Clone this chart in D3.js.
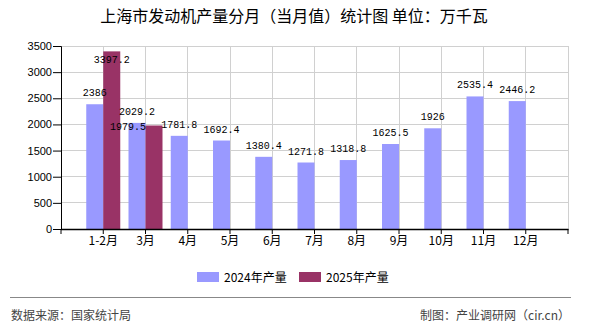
<!DOCTYPE html>
<html><head><meta charset="utf-8">
<script src="https://cdn.jsdelivr.net/npm/d3@7"></script>
<style>body{margin:0;background:#fff}svg{display:block}</style>
</head><body><svg id="c" width="590" height="330"></svg>
<script>
const categories = ["1-2月","3月","4月","5月","6月","7月","8月","9月","10月","11月","12月"];
const values2024 = [2386,2029.2,1781.8,1692.4,1380.4,1271.8,1318.8,1625.5,1926,2535.4,2446.2];
const values2025 = [3397.2,1979.5,null,null,null,null,null,null,null,null,null];
const seriesNames = ["2024年产量","2025年产量"];
const yTicks = [0,500,1000,1500,2000,2500,3000,3500];
const title = "上海市发动机产量分月（当月值）统计图 单位：万千瓦";

const svg = d3.select("#c");
const L=61,R=568,T=46,B=229,bw=17;
const colors=["#9999FF","#993366"];
const x = d3.scalePoint().domain(categories).range([L,R]).padding(1);
const y = d3.scaleLinear().domain([0,3500]).range([B,T]);
const cjk = "'Noto Sans CJK SC', 'Liberation Sans', sans-serif";

svg.append("text").attr("x",294).attr("y",22).attr("text-anchor","middle")
  .attr("font-family",cjk).attr("font-size",16).attr("fill","#000").text(title);

// grid
const g = svg.append("g");
g.selectAll("line.h").data(yTicks.filter(d=>d>0)).join("line")
  .attr("x1",L).attr("x2",R).attr("y1",d=>y(d)).attr("y2",d=>y(d))
  .attr("stroke","#d0d0d0").attr("stroke-width",1).attr("shape-rendering","crispEdges");
const vpos = [L].concat(categories.map(c=>x(c))).concat([R]);
g.selectAll("line.v").data(vpos.slice(1)).join("line")
  .attr("x1",d=>d).attr("x2",d=>d).attr("y1",T).attr("y2",B)
  .attr("stroke","#d0d0d0").attr("stroke-width",1).attr("shape-rendering","crispEdges");

// bars
const series=[values2024,values2025];
series.forEach((vals,si)=>{
  svg.append("g").selectAll("rect").data(categories.map((c,i)=>({c,v:vals[i]})).filter(d=>d.v!=null)).join("rect")
    .attr("x",d=>si===0?x(d.c)-bw:x(d.c)).attr("width",bw)
    .attr("y",d=>y(d.v)).attr("height",d=>B-y(d.v)).attr("fill",colors[si]);
});

// labels
const shift = {"1-1":[-26,4]};
series.forEach((vals,si)=>{
  categories.forEach((c,i)=>{
    const v=vals[i]; if(v==null) return;
    const cx = si===0?x(c)-bw/2:x(c)+bw/2;
    let by = y(v)-8;
    if(by-8<T) by = y(v)+12;
    const s = shift[si+"-"+i];
    let dx=0;
    if(s){dx=s[0]; by=y(v)+s[1];}
    svg.append("text").attr("x",cx+dx).attr("y",by).attr("text-anchor","middle")
      .attr("font-family","'Liberation Mono','DejaVu Sans Mono',monospace").attr("font-size",10)
      .attr("fill","#000").text(String(v));
  });
});

// axes
const ya = svg.append("g").attr("transform",`translate(${L},0)`)
  .call(d3.axisLeft(y).tickValues(yTicks).tickSize(8).tickFormat(d3.format("d")));
ya.select(".domain").attr("stroke","#000");
ya.selectAll(".tick line").attr("stroke","#000");
ya.selectAll("text").attr("font-family","'Liberation Sans',Arial,sans-serif").attr("font-size",11).attr("fill","#000").attr("x",-9);

svg.append("line").attr("x1",L).attr("x2",R+0.5).attr("y1",B+0.5).attr("y2",B+0.5).attr("stroke","#000").attr("stroke-width",1.5);
svg.append("g").selectAll("line").data(vpos).join("line")
  .attr("x1",d=>d).attr("x2",d=>d).attr("y1",B).attr("y2",B+5).attr("stroke","#000");
svg.append("g").selectAll("text").data(categories).join("text")
  .attr("x",d=>x(d)).attr("y",245).attr("text-anchor","middle")
  .attr("font-family",cjk).attr("font-size",12).attr("fill","#000").text(d=>d);

// legend
const lg = svg.append("g");
[[197,224],[299,326]].forEach((p,i)=>{
  lg.append("rect").attr("x",p[0]).attr("y",272).attr("width",22).attr("height",10).attr("fill",colors[i]);
  lg.append("text").attr("x",p[1]).attr("y",281.5).attr("font-family",cjk).attr("font-size",12).attr("fill","#000").text(seriesNames[i]);
});

// footer
svg.append("line").attr("x1",10).attr("x2",571).attr("y1",297.5).attr("y2",297.5).attr("stroke","#888").attr("stroke-width",1);
svg.append("text").attr("x",11).attr("y",320).attr("font-family",cjk).attr("font-size",12).attr("fill","#444").text("数据来源：国家统计局");
svg.append("text").attr("x",570).attr("y",320).attr("text-anchor","end").attr("font-family",cjk).attr("font-size",12).attr("fill","#444").text("制图：产业调研网（cir.cn）");
</script></body></html>
